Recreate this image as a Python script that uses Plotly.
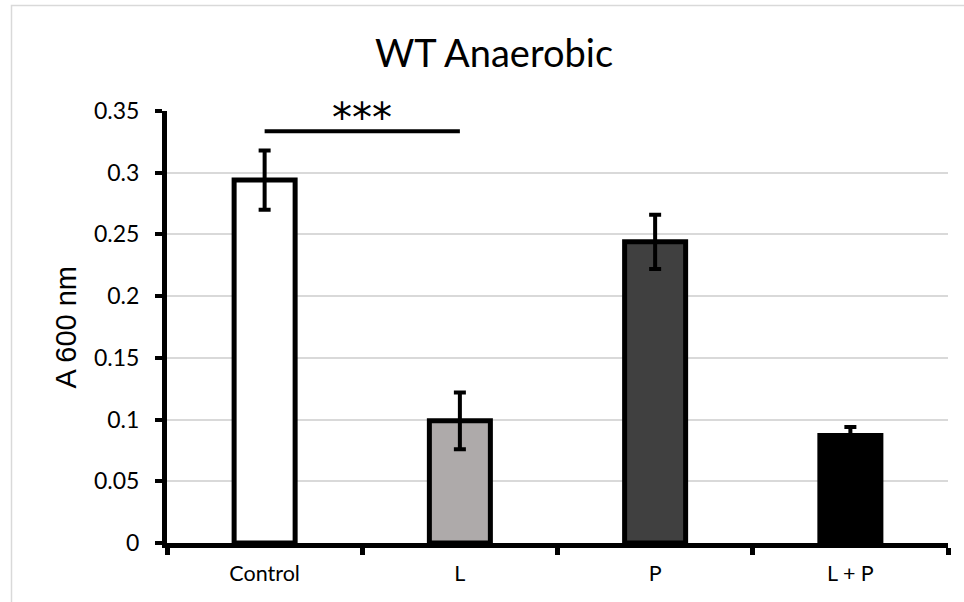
import plotly.graph_objects as go

categories = ["Control", "L", "P", "L + P"]
values = [0.294, 0.099, 0.244, 0.087]
errors = [0.024, 0.023, 0.022, 0.007]
colors = ["#ffffff", "#aeaaaa", "#404040", "#000000"]
y_ticks = [0, 0.05, 0.1, 0.15, 0.2, 0.25, 0.3, 0.35]
y_tick_labels = ["0", "0.05", "0.1", "0.15", "0.2", "0.25", "0.3", "0.35"]
sig_from, sig_to = 0, 1
sig_level = 0.3336
sig_text = "***"
title_text = "WT Anaerobic"
y_title = "A 600 nm"

W, H = 964, 602
L, R, T, B = 167, 16, 111, 59
pw = W - L - R
ph = H - T - B


def px_x(px):
    return (px - L) / pw


def px_y(py):
    return (H - B - py) / ph


fig = go.Figure()
fig.add_trace(go.Bar(
    x=categories, y=values,
    marker=dict(color=colors, line=dict(color="#000000", width=5)),
    error_y=dict(type="data", array=errors, visible=True,
                 color="#000000", thickness=4, width=6),
    showlegend=False,
))

fig.update_layout(
    width=W, height=H,
    margin=dict(l=L, r=R, t=T, b=B, pad=0),
    plot_bgcolor="#ffffff", paper_bgcolor="#ffffff",
    bargap=0.6875,
    font=dict(family="Lato", color="#000000"),
)

fig.update_xaxes(
    type="category", range=[-0.5, 3.5],
    showline=True, linecolor="#000000", linewidth=5,
    ticks="outside", tickson="boundaries", ticklen=7, tickwidth=5, tickcolor="#000000",
    tickfont=dict(family="Lato", size=21.5, color="#000000"),
    ticklabelstandoff=7,
    showgrid=False, zeroline=False, fixedrange=True,
)
fig.update_yaxes(
    range=[0, 0.35], tickvals=y_ticks, ticktext=y_tick_labels,
    showline=True, linecolor="#000000", linewidth=5,
    ticks="outside", ticklen=7, tickwidth=4, tickcolor="#000000",
    tickfont=dict(family="Lato", size=23, color="#000000"),
    ticklabelstandoff=11,
    showgrid=True, gridcolor="#d9d9d9", gridwidth=2,
    zeroline=False, fixedrange=True,
)

# significance bar
fig.add_shape(type="line", xref="x", yref="y",
              x0=sig_from, x1=sig_to, y0=sig_level, y1=sig_level,
              line=dict(color="#000000", width=4))
fig.add_annotation(x=(sig_from + sig_to) / 2, xref="x", y=0.3445, yref="y",
                   text=sig_text, showarrow=False, xanchor="center", yanchor="middle",
                   font=dict(family="DejaVu Sans", size=40, color="#000000"))

# title
fig.add_annotation(x=px_x(494), xref="paper", y=px_y(52), yref="paper",
                   text=title_text, showarrow=False, xanchor="center", yanchor="middle",
                   font=dict(family="Lato", size=38, color="#000000"))

# y axis title
fig.add_annotation(x=px_x(65), xref="paper", y=px_y(327.5), yref="paper",
                   text=y_title, showarrow=False, textangle=-90,
                   xanchor="center", yanchor="middle",
                   font=dict(family="Liberation Sans", size=29, color="#000000"))

# outer chart frame
fig.add_shape(type="rect", xref="paper", yref="paper",
              x0=px_x(11.5), x1=px_x(1000), y0=px_y(640), y1=px_y(5.5),
              line=dict(color="#d9d9d9", width=1.5), fillcolor="rgba(0,0,0,0)",
              layer="below")

fig.write_html("out.html")
